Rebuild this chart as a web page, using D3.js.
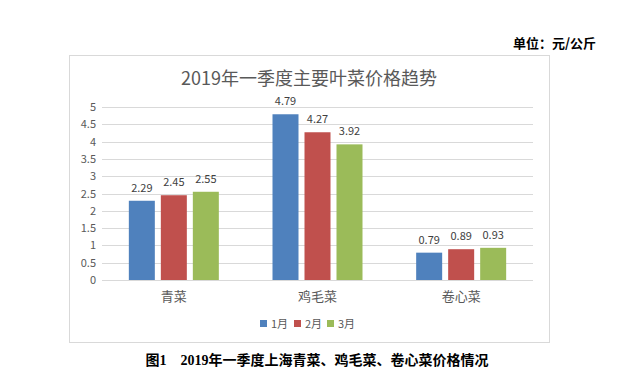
<!DOCTYPE html>
<html><head><meta charset="utf-8">
<script src="https://cdn.jsdelivr.net/npm/d3@7"></script>
<style>body{margin:0;background:#fff}svg{display:block}</style>
</head><body>
<svg id="c" width="626" height="387"></svg>
<script>
const categories = ["青菜", "鸡毛菜", "卷心菜"];
const series = ["1月", "2月", "3月"];
const values = [
  [2.29, 4.79, 0.79],
  [2.45, 4.27, 0.89],
  [2.55, 3.92, 0.93]
];
const yTicks = [0, 0.5, 1, 1.5, 2, 2.5, 3, 3.5, 4, 4.5, 5];
const colors = ["#4F81BD", "#C0504D", "#9BBB59"];
const font = "'Noto Sans CJK SC', 'Noto Sans', sans-serif";
const capFont = "'Liberation Serif', 'Noto Sans CJK SC', serif";

const svg = d3.select("#c");
svg.append("rect").attr("x", 69.5).attr("y", 55.5).attr("width", 480).attr("height", 287)
  .attr("fill", "#fff").attr("stroke", "#D9D9D9");

const L = 102, R = 533, T = 107, B = 280;
const x = d3.scaleBand().domain(categories).range([L, R]);
const y = d3.scaleLinear().domain([0, 5]).range([B, T]);
const bw = 26, gap = 6;
const xs = d3.scaleBand().domain(series).range([-(bw * 1.5 + gap), bw * 1.5 + gap]).paddingInner(gap / (bw + gap));

svg.append("g").selectAll("line").data(yTicks).join("line")
  .attr("x1", L).attr("x2", R).attr("y1", d => Math.round(y(d)) + 0.5).attr("y2", d => Math.round(y(d)) + 0.5)
  .attr("stroke", "#D9D9D9").attr("stroke-width", 1);

const ax = svg.append("g").attr("transform", `translate(${L - 6},0)`)
  .call(d3.axisLeft(y).tickValues(yTicks).tickSize(0).tickPadding(0).tickFormat(d => String(d)));
ax.select(".domain").remove();
ax.selectAll("text").attr("font-family", font).attr("font-size", 11).attr("fill", "#595959");

series.forEach((s, si) => {
  const g = svg.append("g");
  g.selectAll("rect").data(values[si]).join("rect")
    .attr("x", (d, i) => x(categories[i]) + x.bandwidth() / 2 + xs(s))
    .attr("width", xs.bandwidth())
    .attr("y", d => y(d)).attr("height", d => B - y(d))
    .attr("fill", colors[si]);
  g.selectAll("text").data(values[si]).join("text")
    .attr("x", (d, i) => x(categories[i]) + x.bandwidth() / 2 + xs(s) + xs.bandwidth() / 2)
    .attr("y", d => y(d) - 9)
    .attr("text-anchor", "middle").attr("font-family", font).attr("font-size", 11).attr("fill", "#404040")
    .text(d => d.toFixed(2));
});

const xa = svg.append("g").attr("transform", `translate(0,${B})`)
  .call(d3.axisBottom(x).tickSize(0).tickPadding(12));
xa.select(".domain").remove();
xa.selectAll("text").attr("font-family", font).attr("font-size", 13).attr("fill", "#595959");

svg.append("text").attr("x", 309).attr("y", 85).attr("text-anchor", "middle")
  .attr("font-family", font).attr("font-size", 18).attr("fill", "#595959").text("2019年一季度主要叶菜价格趋势");

const lg = svg.append("g");
const lx = [260, 294, 327];
series.forEach((s, i) => {
  lg.append("rect").attr("x", lx[i]).attr("y", 320).attr("width", 7).attr("height", 7).attr("fill", colors[i]);
  lg.append("text").attr("x", lx[i] + 11).attr("y", 328).attr("font-family", font).attr("font-size", 11)
    .attr("fill", "#595959").text(s);
});

svg.append("text").attr("x", 596).attr("y", 48).attr("text-anchor", "end")
  .attr("font-family", font).attr("font-size", 13).attr("font-weight", "bold").attr("fill", "#000").text("单位：元/公斤");
svg.append("text").attr("x", 317).attr("y", 365).attr("text-anchor", "middle")
  .attr("font-family", capFont).attr("font-size", 14).attr("font-weight", "bold").attr("fill", "#000")
  .attr("xml:space", "preserve").style("white-space", "pre")
  .text("图1    2019年一季度上海青菜、鸡毛菜、卷心菜价格情况");
</script>
</body></html>
